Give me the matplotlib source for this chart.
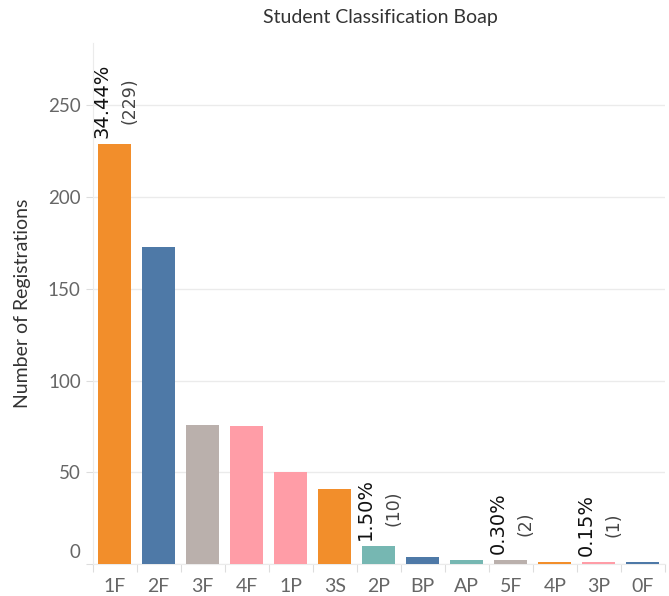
import matplotlib
matplotlib.use("Agg")
import matplotlib.pyplot as plt
from matplotlib.transforms import ScaledTranslation

# ── data ──────────────────────────────────────────────────────────────────────
CLASSES  = ["1F", "2F", "3F", "4F", "1P", "3S", "2P", "BP", "AP", "5F", "4P", "3P", "0F"]
COUNTS   = [229, 173, 76, 75, 50, 41, 10, 4, 2, 2, 1, 1, 1]
LABELLED = ["1F", "2P", "5F", "3P"]          # bars that carry a % / count label
Y_TICKS  = [0, 50, 100, 150, 200, 250]

# ── palette ───────────────────────────────────────────────────────────────────
ORANGE = "#F28E2B"
BLUE   = "#4E79A7"
GREY   = "#BAB0AC"
PINK   = "#FF9DA7"
TEAL   = "#76B7B2"
BAR_COLORS = [ORANGE, BLUE, GREY, PINK, PINK, ORANGE, TEAL,
              BLUE, TEAL, GREY, ORANGE, PINK, BLUE]
FG     = "#333333"
FG_MUT = "#666666"
GRID   = "#EBEBEB"
TICK   = "#DDDDDD"

plt.rcParams["font.family"] = ["Lato", "DejaVu Sans"]

W, H = 669, 596
fig = plt.figure(figsize=(W / 100, H / 100), dpi=100)
ax = fig.add_axes([92.5 / W, 32 / H, (665 - 92.5) / W, (564 - 43) / H])

xs = range(len(CLASSES))
ax.bar(xs, COUNTS, width=0.75, color=BAR_COLORS, linewidth=0, zorder=3)

ax.set_xlim(-0.5, len(CLASSES) - 0.5)
ax.set_ylim(0, 284)

# y axis: light grid + short grey ticks
ax.set_yticks(Y_TICKS)
ax.yaxis.grid(True, color=GRID, linewidth=1, zorder=0)
ax.tick_params(axis="y", length=5, width=0.8, color=TICK, pad=3.5,
               labelsize=13.5, labelcolor=FG_MUT)

# x axis: labels under bars, separators between categories
ax.set_xticks(list(xs))
ax.set_xticklabels(CLASSES)
ax.set_xticks([i - 0.5 for i in range(len(CLASSES) + 1)], minor=True)
ax.tick_params(axis="x", which="major", length=0, pad=10,
               labelsize=14, labelcolor=FG_MUT)
ax.tick_params(axis="x", which="minor", length=6, width=0.8, color=TICK)

for side in ("top", "right"):
    ax.spines[side].set_visible(False)
ax.spines["left"].set_color(GRID)
ax.spines["bottom"].set_color(GRID)

# lift the "0" label off the baseline
zero_lbl = ax.get_yticklabels()[0]
zero_lbl.set_transform(zero_lbl.get_transform() +
                       ScaledTranslation(0, 13 / 100, fig.dpi_scale_trans))

ax.set_ylabel("Number of Registrations", fontsize=14, color=FG, labelpad=12)
fig.text(380 / W, 1 - 18 / H, "Student Classification Boap",
         ha="center", va="center", fontsize=14, color=FG)

# rotated labels: share of total, with raw count beside it
total = sum(COUNTS)
for i, (cls, n) in enumerate(zip(CLASSES, COUNTS)):
    if cls not in LABELLED:
        continue
    pct = ax.annotate(f"{n / total * 100:.2f}%", xy=(i, n),
                      xytext=(-13 * 0.72, 6 * 0.72), textcoords="offset points",
                      rotation=90, ha="center", va="bottom",
                      fontsize=14, color="#111111", family="DejaVu Sans")
    ax.annotate(f"({n})", xy=(0.5, 0.5), xycoords=pct,
                xytext=(28 * 0.72, 0), textcoords="offset points",
                rotation=90, ha="center", va="center",
                fontsize=12.5, color="#444444", family="DejaVu Sans")

fig.savefig("out.png", dpi=100, facecolor="white")
